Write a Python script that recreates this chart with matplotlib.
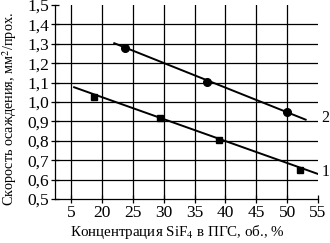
import matplotlib
matplotlib.use("Agg")
import matplotlib.pyplot as plt

plt.rcParams['font.family'] = ['Liberation Serif', 'DejaVu Serif']
plt.rcParams['mathtext.fontset'] = 'stix'

# серия 1 (квадраты) и серия 2 (круги)
x1 = [18.7, 29.4, 39.0, 52.1]
y1 = [1.024, 0.917, 0.805, 0.650]
fit1_x = [15.5, 55.0]
fit1_y = [1.076, 0.629]

x2 = [23.8, 37.1, 50.0]
y2 = [1.277, 1.104, 0.946]
fit2_x = [22.0, 53.0]
fit2_y = [1.303, 0.909]

xticks = [15, 20, 25, 30, 35, 40, 45, 50, 55]
xtick_labels = ['5', '20', '25', '30', '35', '40', '45', '50', '55']
yticks = [0.5, 0.6, 0.7, 0.8, 0.9, 1.0, 1.1, 1.2, 1.3, 1.4, 1.5]
ytick_labels = ['0,5', '0,6', '0,7', '0,8', '0,9', '1,0', '1,1', '1,2', '1,3', '1,4', '1,5']

fig = plt.figure(figsize=(3.30, 2.43), dpi=100)
ax = fig.add_axes([55 / 330, 44 / 243, 263 / 330, 194 / 243])

for v in xticks[:-1]:
    ax.axvline(v, color='black', lw=0.9, zorder=1)
for v in yticks[1:-1]:
    ax.axhline(v, color='black', lw=0.9, zorder=1)

ax.plot(fit1_x, fit1_y, color='black', lw=1.4, zorder=2)
ax.plot(x1, y1, 's', color='black', ms=5, zorder=3)
ax.plot(fit2_x, fit2_y, color='black', lw=1.4, zorder=2)
ax.plot(x2, y2, 'o', color='black', ms=5.5, zorder=3)

ax.text(55.6, fit2_y[1] + 0.01, '2', fontsize=11.5, va='center', ha='left', clip_on=False)
ax.text(55.6, fit1_y[1] + 0.01, '1', fontsize=11.5, va='center', ha='left', clip_on=False)

ax.set_xlim(12.4, 55)
ax.set_ylim(0.5, 1.5)
ax.set_xticks(xticks)
ax.set_xticklabels(xtick_labels)
ax.set_yticks(yticks)
ax.set_yticklabels(ytick_labels)
ax.tick_params(direction='inout', length=6, width=0.9, labelsize=12.5, pad=1)
for s in ['top', 'right']:
    ax.spines[s].set_visible(False)
for s in ['left', 'bottom']:
    ax.spines[s].set_linewidth(0.9)

ax.set_xlabel('Концентрация SiF$_4$ в ПГС, об., %', fontsize=10.8)
ax.xaxis.set_label_coords(0.464, -0.125)
ax.set_ylabel('Скорость осаждения, мм$^2$/прох.', fontsize=10.3)
ax.yaxis.set_label_coords(-0.137, 0.466)

fig.savefig('out.png', dpi=100)
